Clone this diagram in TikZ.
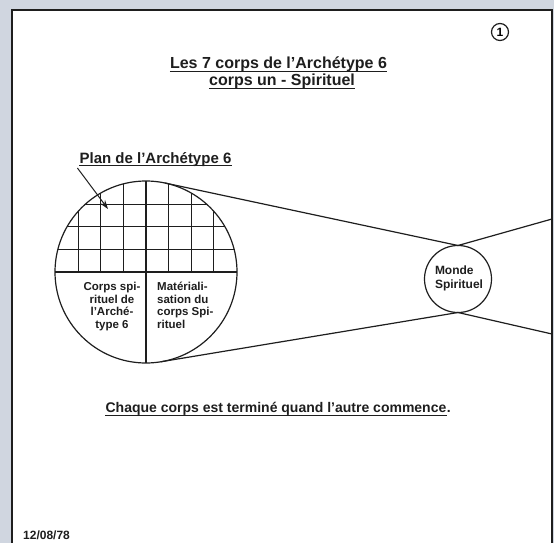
\documentclass[tikz,border=0pt]{standalone}
\usepackage{fontspec}
\setmainfont{Liberation Sans}
\usetikzlibrary{calc, arrows.meta}

\definecolor{encre}{RGB}{30,30,30}
\definecolor{fond}{RGB}{208,214,224}

\tikzset{
	trait/.style = {draw=encre, line width=1.2pt},
	souligne/.style = {draw=encre, line width=1pt},
	texte/.style = {inner sep=0pt, text=encre, font=\bfseries\fontsize{#1}{#1}\selectfont},
	bloc/.style = {inner sep=0pt, text=encre, font=\bfseries\fontsize{11.5}{12.5}\selectfont},
	fleche/.style = {draw=encre, line width=1pt, -{Stealth[length=9pt, width=6pt]}}
}

\begin{document}
\begin{tikzpicture}[x=1pt, y=-1pt]
		\def\r{91};
		\def\c{22.6};

		\clip (0,0) rectangle (554,543);
		\useasboundingbox (0,0) rectangle (554,543);
		\fill [fond] (0,0) rectangle (554,543);
		\filldraw [fill=white, draw=encre, line width=1.6pt] (12,10) rectangle (552,560);

		\node [trait, circle, minimum size=17pt, inner sep=0pt, font=\bfseries\fontsize{12}{12}\selectfont] (num) at (500,32) {1};

		\node [texte=16, anchor=base] (titreA) at (278.5,69) {Les 7 corps de l’Archétype 6};
		\node [texte=16, anchor=base] (titreB) at (282,85) {corps un - Spirituel};
		\draw [souligne] ($(titreA.base west)+(0,3)$) -- ($(titreA.base east)+(0,3)$);
		\draw [souligne] ($(titreB.base west)+(0,3)$) -- ($(titreB.base east)+(0,3)$);

		\begin{scope}
			\node [trait, circle, minimum size=2*\r pt, outer sep=0pt] (plan) at (146,272) {};

			\begin{scope}
				\clip (plan.center) circle (\r);
				\foreach \k in {-3,-2,-1,1,2,3}
					\draw [trait] ($(plan.center)+(\k*\c,0)$) -- ++(0,-\r);
				\foreach \j in {1,2,3}
					\draw [trait] ($(plan.center)+(-\r,-\j*\c)$) -- ++(2*\r,0);
			\end{scope}
			\draw [trait] (plan.west) -- (plan.east);
			\draw [trait] (plan.north) -- (plan.south);

			\node [bloc, align=center, anchor=north] (gauche) at (112,282) {Corps spi-\\rituel de\\l’Arché-\\type 6};
			\node [bloc, align=left, anchor=base west] (droite) at (157,0 |- gauche.base) {Matériali-\\sation du\\corps Spi-\\rituel};
		\end{scope}

		\node [texte=15, anchor=base] (etiquette) at (155.5,163) {Plan de l’Archétype 6};
		\draw [souligne] ($(etiquette.base west)+(0,2.5)$) -- ($(etiquette.base east)+(0,2.5)$);
		\coordinate (cible) at (108,209);
		\draw [fleche] ($(etiquette.base west)+(-2,5)$) -- (cible);

		\node [trait, circle, minimum size=67pt, inner sep=0pt, outer sep=0pt] (monde) at (458,279) {};
		\node [inner sep=0pt, text=encre, font=\bfseries\fontsize{12}{14}\selectfont, align=left] (mondetexte) at ($(monde.center)+(1,-1)$) {Monde\\Spirituel};

		\coordinate (bordhaut) at (552,219);
		\coordinate (bordbas) at (552,334);
		\draw [trait] (tangent cs:node=plan, point={(monde.north)}, solution=1) -- (monde.north) -- (bordhaut);
		\draw [trait] (tangent cs:node=plan, point={(monde.south)}, solution=2) -- (monde.south) -- (bordbas);

		\node [texte=14, anchor=base] (conclusion) at (276,412) {Chaque corps est terminé quand l’autre commence};
		\node [texte=14, anchor=base west] (point) at (conclusion.base east) {.};
		\draw [souligne] ($(conclusion.base west)+(0,3.5)$) -- ($(conclusion.base east)+(0,3.5)$);

		\node [texte=12, anchor=base west] (date) at (23,539) {12/08/78};
	\end{tikzpicture}
\end{document}
